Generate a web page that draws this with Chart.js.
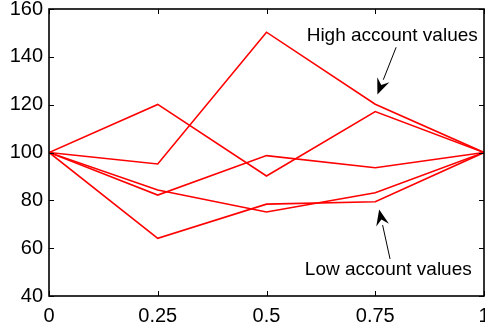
<!DOCTYPE html>
<html>
<head>
<meta charset="utf-8">
<script src="https://cdn.jsdelivr.net/npm/chart.js@4/dist/chart.umd.min.js"></script>
<style>
  html, body { margin: 0; padding: 0; background: #fff; }
  #wrap { width: 485px; height: 331px; }
</style>
</head>
<body>
<div id="wrap"><canvas id="accounts"></canvas></div>
<script>
// time points and account value paths
const times = [0, 0.25, 0.5, 0.75, 1];
const pathA = [100, 95.2, 150.3, 120.2, 100];
const pathB = [100, 120.1, 90.2, 117.1, 100];
const pathC = [100, 82.2, 98.7, 93.6, 100];
const pathD = [100, 84.3, 75.1, 83.2, 100];
const pathE = [100, 64.1, 78.4, 79.4, 100];
const paths = [pathA, pathB, pathC, pathD, pathE];

const xTicks = [0, 0.25, 0.5, 0.75, 1];
const yTicks = [40, 60, 80, 100, 120, 140, 160];

// text notes with arrows (data coordinates)
const notes = [
    { text: "High account values", at: [0.789, 148.7], from: [0.798, 144.0], to: [0.755, 124.2] },
    { text: "Low account values", at: [0.78, 50.9], from: [0.784, 55.5], to: [0.759, 76.2] }
];

const FONT = "'Liberation Sans', Arial, Helvetica, sans-serif";

// frame, inward ticks on all four sides, and the arrow notes
const framePlugin = {
    id: "frame",
    afterDraw(chart) {
        const ctx = chart.ctx;
        const a = chart.chartArea;
        const xs = chart.scales.x;
        const ys = chart.scales.y;
        ctx.save();
        ctx.strokeStyle = "#000";
        ctx.lineWidth = 1;
        const len = 5;
        ctx.beginPath();
        xTicks.forEach(v => {
            const px = Math.round(xs.getPixelForValue(v)) + 0.5;
            ctx.moveTo(px, a.bottom); ctx.lineTo(px, a.bottom - len);
            ctx.moveTo(px, a.top); ctx.lineTo(px, a.top + len);
        });
        yTicks.forEach(v => {
            const py = Math.round(ys.getPixelForValue(v)) + 0.5;
            ctx.moveTo(a.left, py); ctx.lineTo(a.left + len, py);
            ctx.moveTo(a.right, py); ctx.lineTo(a.right - len, py);
        });
        ctx.stroke();
        ctx.lineWidth = 1.6;
        ctx.strokeRect(a.left, a.top, a.right - a.left, a.bottom - a.top);

        ctx.fillStyle = "#000";
        ctx.font = "19px " + FONT;
        ctx.textAlign = "center";
        ctx.textBaseline = "middle";
        notes.forEach(n => {
            ctx.fillText(n.text, xs.getPixelForValue(n.at[0]), ys.getPixelForValue(n.at[1]));
            const x0 = xs.getPixelForValue(n.from[0]), y0 = ys.getPixelForValue(n.from[1]);
            const x1 = xs.getPixelForValue(n.to[0]), y1 = ys.getPixelForValue(n.to[1]);
            const ang = Math.atan2(y1 - y0, x1 - x0);
            const hl = 16, hw = 6.5;
            const bx = x1 - hl * Math.cos(ang), by = y1 - hl * Math.sin(ang);
            ctx.lineWidth = 1;
            ctx.beginPath();
            ctx.moveTo(x0, y0); ctx.lineTo(bx, by);
            ctx.stroke();
            ctx.beginPath();
            ctx.moveTo(x1, y1);
            ctx.lineTo(bx - hw * Math.sin(ang), by + hw * Math.cos(ang));
            ctx.lineTo(bx + 0.35 * hl * Math.cos(ang), by + 0.35 * hl * Math.sin(ang));
            ctx.lineTo(bx + hw * Math.sin(ang), by - hw * Math.cos(ang));
            ctx.closePath();
            ctx.fill();
        });
        ctx.restore();
    }
};

new Chart(document.getElementById("accounts"), {
    type: "line",
    data: {
        datasets: paths.map(p => ({
            data: p.map((v, i) => ({ x: times[i], y: v })),
            borderColor: "#ff0000",
            borderWidth: 1.6,
            pointRadius: 0,
            tension: 0,
            fill: false
        }))
    },
    options: {
        responsive: true,
        maintainAspectRatio: false,
        animation: false,
        layout: { padding: { top: 9, right: 1, left: 0, bottom: 0 } },
        plugins: { legend: { display: false }, tooltip: { enabled: false } },
        scales: {
            x: {
                type: "linear",
                min: 0,
                max: 1,
                afterBuildTicks: s => { s.ticks = xTicks.map(v => ({ value: v })); },
                afterFit: s => { s.height = 35; s.paddingLeft = 0; s.paddingRight = 0; },
                grid: { display: false, drawTicks: false },
                border: { display: false },
                ticks: {
                    color: "#000",
                    padding: 8,
                    maxRotation: 0,
                    autoSkip: false,
                    callback: v => String(v),
                    font: { family: FONT, size: 20 }
                }
            },
            y: {
                min: 40,
                max: 160,
                afterBuildTicks: s => { s.ticks = yTicks.map(v => ({ value: v })); },
                afterFit: s => { s.width = 49; s.paddingTop = 0; s.paddingBottom = 0; },
                grid: { display: false, drawTicks: false },
                border: { display: false },
                ticks: {
                    color: "#000",
                    padding: 6,
                    callback: v => String(v),
                    font: { family: FONT, size: 20 }
                }
            }
        }
    },
    plugins: [framePlugin]
});
</script>
</body>
</html>
